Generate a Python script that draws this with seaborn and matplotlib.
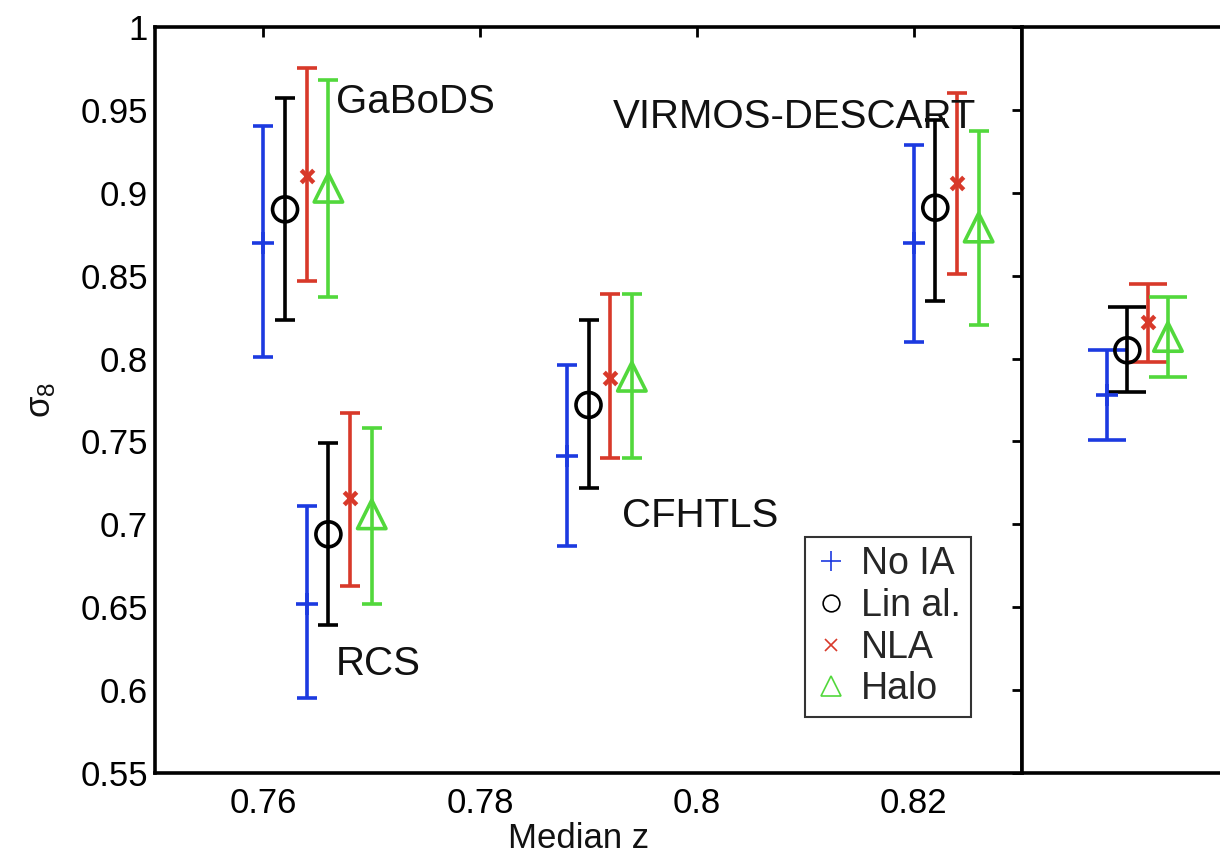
import numpy as np
import matplotlib
matplotlib.use('Agg')
import matplotlib.pyplot as plt
import seaborn as sns
from matplotlib.lines import Line2D

# ---------------- data ----------------
surveys = ['GaBoDS', 'RCS', 'CFHTLS', 'VIRMOS-DESCART']
median_z = [0.760, 0.764, 0.788, 0.820]
series_names = ['No IA', 'Lin al.', 'NLA', 'Halo']

noia_mean = [0.870, 0.652, 0.741, 0.870]
noia_lo = [0.801, 0.595, 0.687, 0.810]
noia_hi = [0.940, 0.711, 0.796, 0.929]

lin_mean = [0.890, 0.694, 0.772, 0.891]
lin_lo = [0.823, 0.639, 0.722, 0.835]
lin_hi = [0.957, 0.749, 0.823, 0.944]

nla_mean = [0.910, 0.716, 0.788, 0.906]
nla_lo = [0.847, 0.663, 0.740, 0.851]
nla_hi = [0.975, 0.767, 0.839, 0.960]

halo_mean = [0.903, 0.706, 0.789, 0.879]
halo_lo = [0.837, 0.652, 0.740, 0.820]
halo_hi = [0.968, 0.758, 0.839, 0.937]

# combined result (right panel)
comb_index = [1, 2, 3, 4]
comb_mean = [0.778, 0.805, 0.822, 0.813]
comb_lo = [0.751, 0.780, 0.798, 0.789]
comb_hi = [0.805, 0.831, 0.845, 0.837]

x_ticks = [0.76, 0.78, 0.80, 0.82]
x_ticklabels = ['0.76', '0.78', '0.8', '0.82']
y_ticks = [0.55, 0.60, 0.65, 0.70, 0.75, 0.80, 0.85, 0.90, 0.95, 1.00]
y_ticklabels = ['0.55', '0.6', '0.65', '0.7', '0.75', '0.8', '0.85', '0.9', '0.95', '1']

# ---------------- style ----------------
sns.set_style('white')
plt.rcParams['font.family'] = ['Liberation Sans', 'DejaVu Sans']
plt.rcParams['mathtext.fontset'] = 'custom'
plt.rcParams['mathtext.rm'] = 'Liberation Sans'
plt.rcParams['mathtext.it'] = 'Liberation Sans'

colors = ['#1c3ae0', '#000000', '#d8392a', '#52d83c']
markers = ['+', 'o', 'x', '^']
msizes = [256, 324, 81, 420]
mlw = [2.6, 2.6, 3.2, 2.6]
dodge = [0.0, 0.002, 0.004, 0.006]

means = [noia_mean, lin_mean, nla_mean, halo_mean]
los = [noia_lo, lin_lo, nla_lo, halo_lo]
his = [noia_hi, lin_hi, nla_hi, halo_hi]

W, H = 1220, 857
fig = plt.figure(figsize=(W / 100, H / 100), dpi=100)
ax = fig.add_axes([155 / W, 1 - 773 / H, 867 / W, 746 / H])
ax2 = fig.add_axes([1022 / W, 1 - 773 / H, 300 / W, 746 / H])


def draw_marker(axis, x, y, i):
    kw = dict(x=x, y=y, ax=axis, marker=markers[i], s=msizes[i],
              linewidth=mlw[i], legend=False, zorder=3)
    if markers[i] in ('o', '^'):
        sns.scatterplot(facecolor='none', edgecolor=colors[i], **kw)
    else:
        sns.scatterplot(color=colors[i], **kw)


for i in range(4):
    x = np.array(median_z) + dodge[i]
    m = np.array(means[i]); lo = np.array(los[i]); hi = np.array(his[i])
    ax.errorbar(x, m, yerr=[m - lo, hi - m], fmt='none', ecolor=colors[i],
                elinewidth=2.6, capsize=7.5, capthick=2.6, zorder=2)
    draw_marker(ax, x, m, i)

    cx = np.array([comb_index[i]], dtype=float)
    cm = np.array([comb_mean[i]]); cl = np.array([comb_lo[i]]); ch = np.array([comb_hi[i]])
    ax2.errorbar(cx, cm, yerr=[cm - cl, ch - cm], fmt='none', ecolor=colors[i],
                 elinewidth=2.6, capsize=13.5, capthick=2.6, zorder=2)
    draw_marker(ax2, cx, cm, i)

ax.set_xlim(0.75, 0.83)
ax.set_ylim(0.55, 1.0)
ax.set_xticks(x_ticks)
ax.set_xticklabels(x_ticklabels)
ax.set_yticks(y_ticks)
ax.set_yticklabels(y_ticklabels)
ax.tick_params(direction='in', length=7, width=2, top=True, right=True,
               labelsize=25, colors='black')
ax.tick_params(axis='y', pad=5)
ax.tick_params(axis='x', pad=10)
ax.set_xlabel('Median z', fontsize=25, color='#111111')
ax.xaxis.set_label_coords(0.488, -0.066)
ax.set_ylabel(r'$\sigma_8$', fontsize=25, labelpad=16, color='#111111')

ax2.set_xlim(-3.19, 11.59)
ax2.set_ylim(0.55, 1.0)
ax2.set_xticks([])
ax2.set_yticks([])
ax2.set_xlabel('')
ax2.set_ylabel('')

for a in (ax, ax2):
    for s in a.spines.values():
        s.set_color('black')
        s.set_linewidth(2.6)
        s.set_visible(True)

# survey names
tkw = dict(fontsize=29, ha='left', va='center', color='#111111')
ax.text(0.7667, 0.955, 'GaBoDS', **tkw)
ax.text(0.7922, 0.946, 'VIRMOS-DESCART', **tkw)
ax.text(0.7931, 0.705, 'CFHTLS', **tkw)
ax.text(0.7667, 0.616, 'RCS', **tkw)

# legend
leg_ms = [14, 12, 9, 14]
handles = [Line2D([], [], linestyle='none', marker=markers[i], color=colors[i],
                  markerfacecolor='none', markersize=leg_ms[i], markeredgewidth=1.2)
           for i in range(4)]
leg = ax.legend(handles, series_names, loc='upper left',
                bbox_to_anchor=(805 / W, 1 - 537 / H), bbox_transform=fig.transFigure,
                fontsize=27, frameon=True, fancybox=False, edgecolor='#333333',
                framealpha=1, borderpad=0.25, labelspacing=0.15, handlelength=0.9,
                handletextpad=0.35, borderaxespad=0)
leg.get_frame().set_linewidth(1.5)

fig.savefig('out.png', dpi=100)
